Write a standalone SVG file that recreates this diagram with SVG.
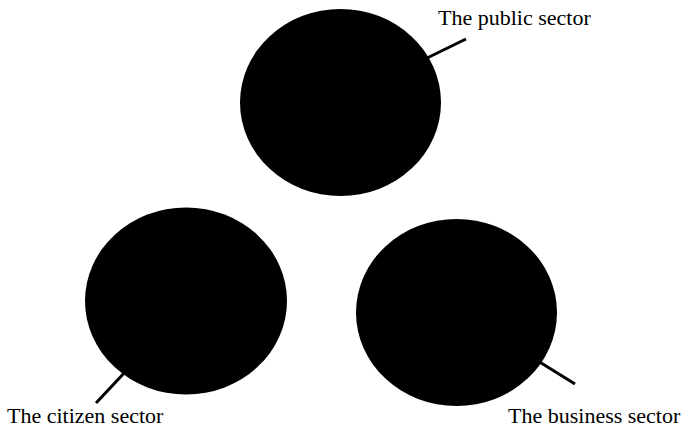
<svg xmlns="http://www.w3.org/2000/svg" width="682" height="435" viewBox="0 0 682 435">
<style>
.node{fill:#000;stroke:none}
.lead{stroke:#000;stroke-width:3;fill:none}
.lbl{font-family:"Liberation Serif","Times New Roman",serif;font-size:22px;fill:#000}
</style>
<rect width="682" height="435" fill="#fff"/>
<g id="connectors">
<line class="lead" x1="425" y1="59" x2="466" y2="39"/>
<line class="lead" x1="127" y1="370" x2="96" y2="403"/>
<line class="lead" x1="538" y1="361" x2="575" y2="384"/>
</g>
<g id="public-sector">
<ellipse class="node" cx="340.5" cy="102.5" rx="100.5" ry="93.5"/>
<text class="lbl" x="438" y="25">The public sector</text>
</g>
<g id="citizen-sector">
<ellipse class="node" cx="186" cy="301" rx="101" ry="93.5"/>
<text class="lbl" x="7" y="423">The citizen sector</text>
</g>
<g id="business-sector">
<ellipse class="node" cx="456.5" cy="312.5" rx="100.5" ry="93.5"/>
<text class="lbl" x="508" y="423">The business sector</text>
</g>
</svg>
